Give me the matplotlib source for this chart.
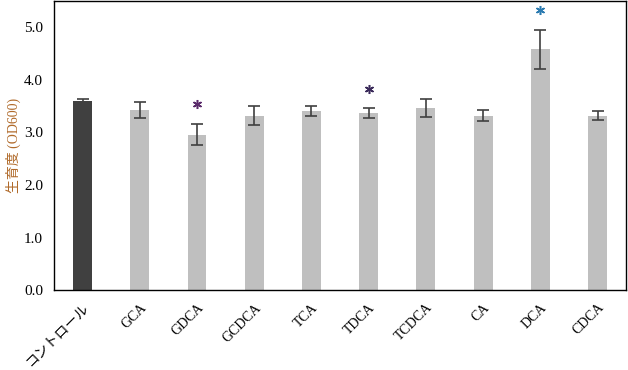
import numpy as np
import matplotlib.pyplot as plt

plt.rcParams['font.family'] = ['Liberation Serif', 'Noto Sans CJK JP']

# data
labels = ['コントロール', 'GCA', 'GDCA', 'GCDCA', 'TCA', 'TDCA', 'TCDCA', 'CA', 'DCA', 'CDCA']
values = [3.59, 3.43, 2.96, 3.32, 3.41, 3.37, 3.47, 3.32, 4.58, 3.32]
errors = [0.05, 0.15, 0.20, 0.18, 0.09, 0.10, 0.17, 0.11, 0.37, 0.09]
bar_colors = ['#404040'] + ['#bfbfbf'] * 9

# significance marks: (category index, y position, colour)
star_idx = [2, 5, 8]
star_y = [3.55, 3.83, 5.34]
star_colors = ['#5a2a6a', '#3a2a5a', '#2a7ab0']

fig = plt.figure(figsize=(6.28, 3.70), dpi=100)
ax = fig.add_axes([0.086, 0.216, 0.911, 0.781])

x = np.arange(len(labels))
ax.bar(x, values, width=0.33, color=bar_colors, zorder=2)
ax.errorbar(x, values, yerr=errors, fmt='none', ecolor='#404040',
            elinewidth=1.2, capsize=4, capthick=1.2, zorder=3)

for i, yy, c in zip(star_idx, star_y, star_colors):
    ax.plot(i, yy, marker=(6, 2, 0), ms=6.5, mew=1.1, color=c, zorder=4)

ax.set_xlim(-0.5, len(labels) - 0.5)
ax.set_ylim(0, 5.5)
ax.set_yticks(np.arange(0, 5.01, 1.0))
ax.set_yticklabels([f'{v:.1f}' for v in np.arange(0, 5.01, 1.0)], fontsize=11)
ax.set_xticks(x)
ax.set_xticklabels(labels, rotation=45, ha='right', rotation_mode='anchor', fontsize=10)
ax.tick_params(axis='y', length=0, pad=8)
ax.tick_params(axis='x', length=0, pad=8)

ax.set_ylabel('生育度 (OD600)', color='#b06a2a', fontsize=10)
ax.yaxis.set_label_coords(-0.058, 0.5)

for s in ax.spines.values():
    s.set_linewidth(1.0)
    s.set_color('black')

fig.savefig('out.png', dpi=100)
